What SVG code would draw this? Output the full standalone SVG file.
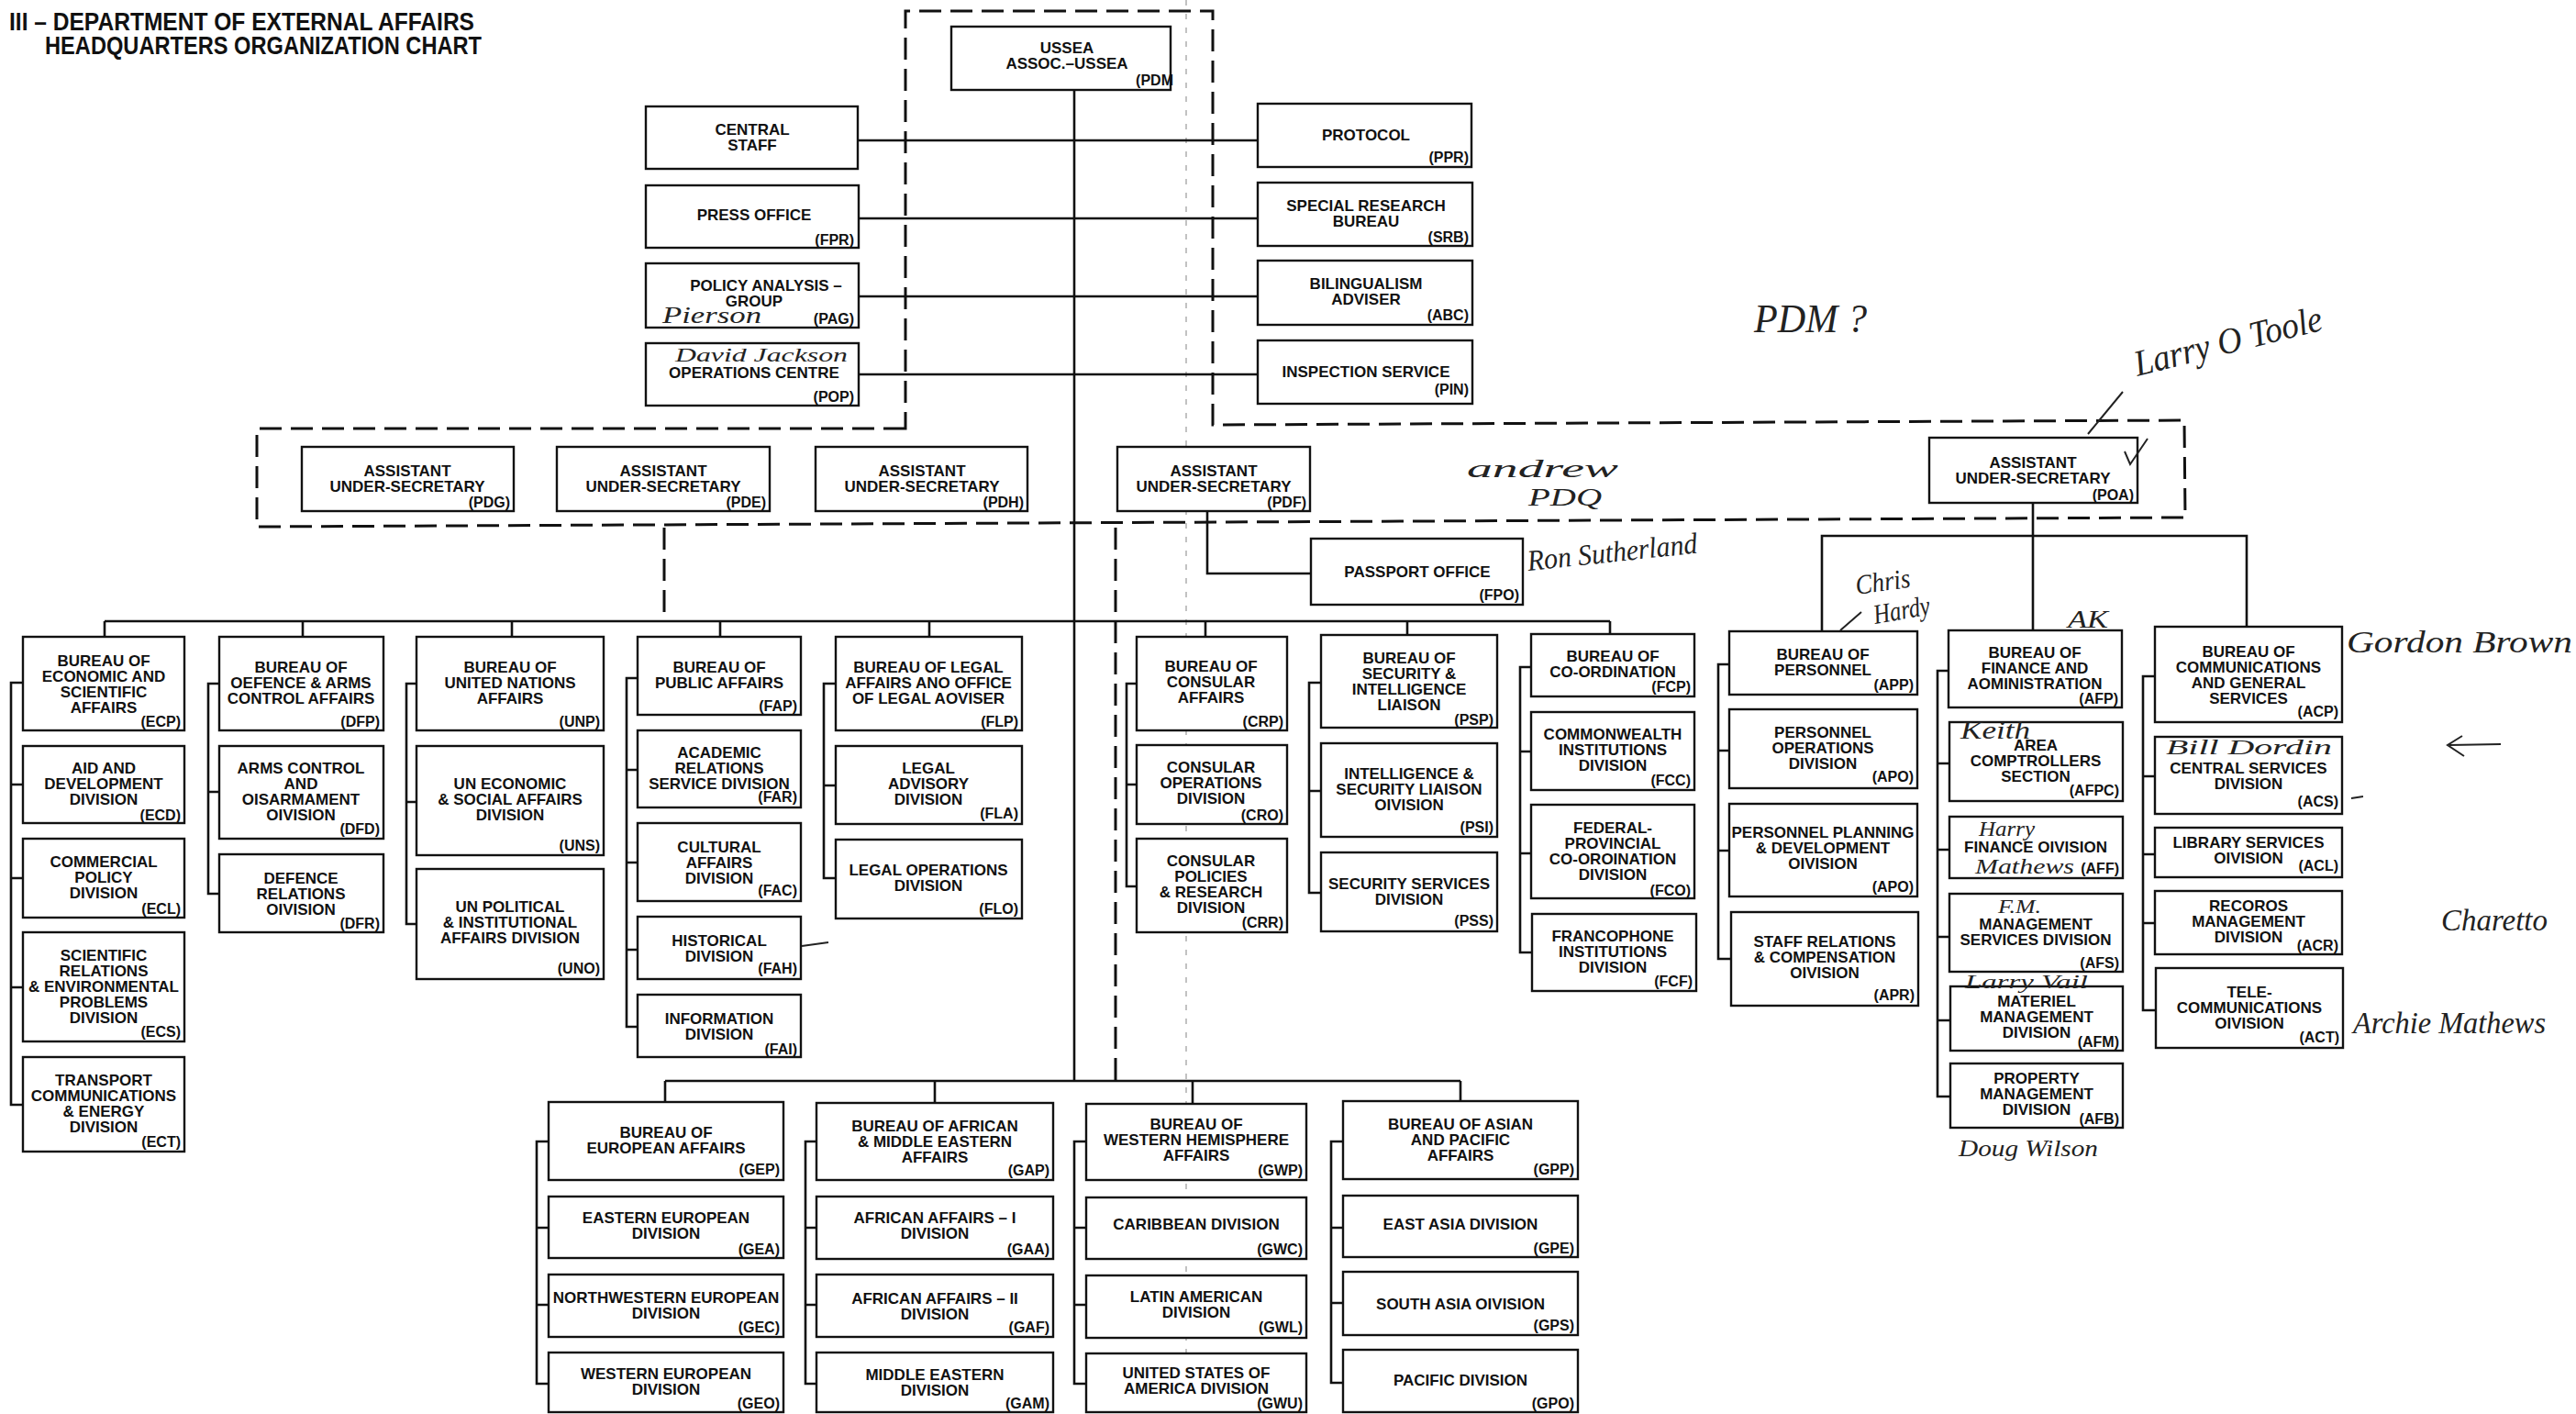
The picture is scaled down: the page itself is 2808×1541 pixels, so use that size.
<svg xmlns="http://www.w3.org/2000/svg" width="2808" height="1541" viewBox="0 0 2808 1541">
<style>
.bx{fill:#fff;stroke:#111;stroke-width:2.4}
.ln{fill:none;stroke:#111;stroke-width:2.6}
.ds{fill:none;stroke:#111;stroke-width:3;stroke-dasharray:24 10}
.fold{fill:none;stroke:#999;stroke-width:1.2;stroke-dasharray:6 9}
.t{font-family:"Liberation Sans",Arial,sans-serif;font-weight:bold;font-size:17px;text-anchor:middle;fill:#111}
.c{font-family:"Liberation Sans",Arial,sans-serif;font-weight:bold;font-size:16px;text-anchor:end;fill:#111}
.hw{font-family:"Liberation Serif",serif;font-style:italic;fill:#222}
.hl{fill:none;stroke:#222;stroke-width:2}
.ttl{font-family:"Liberation Sans",Arial,sans-serif;font-weight:bold;font-size:27px;fill:#111}
</style>
<rect width="2808" height="1541" fill="#fff"/>
<g id="title">
<text class="ttl" x="10" y="33" textLength="507" lengthAdjust="spacingAndGlyphs">III – DEPARTMENT OF EXTERNAL AFFAIRS</text>
<text class="ttl" x="49" y="59" textLength="476" lengthAdjust="spacingAndGlyphs">HEADQUARTERS ORGANIZATION CHART</text>
</g>
<g id="connectors">
<path class="fold" d="M1293 0V1541"/>
<path class="ds" d="M987 467L280 467L280 574L2382 564L2381 458L1322 463L1322 12L987 12Z"/>
<path class="ds" d="M724 575V677M1216 575V1178"/>
<path class="ln" d="M1171 98V1178"/>
<path class="ln" d="M935 153H1371M936 238H1371M936 323H1371M936 408H1371"/>
<path class="ln" d="M1316 557V625H1429"/>
<path class="ln" d="M114 677H1755M114 677V694M330 677V694M558 677V694M785 677V694M1013 677V694M1314 677V694M1534 677V692M1755 677V691"/>
<path class="ln" d="M25 744H12V1204H25M12 855H25M12 957H25M12 1076H25"/>
<path class="ln" d="M239 745H227V974H239M227 863H239"/>
<path class="ln" d="M454 745H443V1007H454M443 874H454"/>
<path class="ln" d="M695 739H683V1119H695M683 839H695M683 940H695M683 1035H695"/>
<path class="ln" d="M911 745H898V957H911M898 856H911"/>
<path class="ln" d="M1239 745H1228V966H1239M1228 855H1239"/>
<path class="ln" d="M1440 744H1427V973H1440M1427 862H1440"/>
<path class="ln" d="M1669 727H1657V1038H1670M1657 819H1669M1657 930H1669"/>
<path class="ln" d="M2216 548V687M1986 688V584H2449V683"/>
<path class="ln" d="M1885 724H1873V1045H1887M1873 818H1885M1873 927H1885"/>
<path class="ln" d="M2124 731H2112V1195H2126M2112 832H2125M2112 926H2125M2112 1021H2125M2112 1112H2126"/>
<path class="ln" d="M2349 737H2336V1101H2350M2336 846H2349M2336 931H2349M2336 1006H2349"/>
<path class="ln" d="M725 1178H1592M725 1178V1201M1019 1178V1202M1300 1178V1203M1592 1178V1200"/>
<path class="ln" d="M598 1244H585V1508H598M585 1338H598M585 1422H598"/>
<path class="ln" d="M890 1244H878V1508H890M878 1338H890M878 1422H890"/>
<path class="ln" d="M1184 1244H1171V1508H1184M1171 1338H1184M1171 1422H1184"/>
<path class="ln" d="M1464 1244H1451V1507H1464M1451 1338H1464M1451 1420H1464"/>
</g>
<g id="ussea"><rect class="bx" x="1037" y="29" width="239" height="69"/><text class="t" x="1163" y="58">USSEA<tspan x="1163" dy="17">ASSOC.–USSEA</tspan></text><text class="c" x="1279" y="93">(PDM</text></g>
<g id="central-staff"><rect class="bx" x="704" y="116" width="231" height="68"/><text class="t" x="820" y="147">CENTRAL<tspan x="820" dy="17">STAFF</tspan></text></g>
<g id="fpr"><rect class="bx" x="704" y="202" width="232" height="68"/><text class="t" x="822" y="240">PRESS OFFICE</text><text class="c" x="931" y="267">(FPR)</text></g>
<g id="pag"><rect class="bx" x="704" y="287" width="232" height="70"/><text class="t" x="835" y="317">POLICY ANALYSIS –</text><text class="t" x="822" y="334">GROUP</text><text class="c" x="931" y="353">(PAG)</text></g>
<g id="pop"><rect class="bx" x="704" y="374" width="232" height="68"/><text class="t" x="822" y="412">OPERATIONS CENTRE</text><text class="c" x="931" y="438">(POP)</text></g>
<g id="ppr"><rect class="bx" x="1371" y="113" width="233" height="69"/><text class="t" x="1489" y="153">PROTOCOL</text><text class="c" x="1601" y="177">(PPR)</text></g>
<g id="srb"><rect class="bx" x="1371" y="199" width="234" height="69"/><text class="t" x="1489" y="230">SPECIAL RESEARCH<tspan x="1489" dy="17">BUREAU</tspan></text><text class="c" x="1601" y="264">(SRB)</text></g>
<g id="abc"><rect class="bx" x="1371" y="284" width="234" height="70"/><text class="t" x="1489" y="315">BILINGUALISM<tspan x="1489" dy="17">ADVISER</tspan></text><text class="c" x="1601" y="349">(ABC)</text></g>
<g id="pin"><rect class="bx" x="1371" y="371" width="234" height="69"/><text class="t" x="1489" y="411">INSPECTION SERVICE</text><text class="c" x="1601" y="430">(PIN)</text></g>
<g id="pdg"><rect class="bx" x="329" y="487" width="231" height="70"/><text class="t" x="444" y="519">ASSISTANT<tspan x="444" dy="17">UNDER-SECRETARY</tspan></text><text class="c" x="556" y="553">(PDG)</text></g>
<g id="pde"><rect class="bx" x="607" y="487" width="232" height="70"/><text class="t" x="723" y="519">ASSISTANT<tspan x="723" dy="17">UNDER-SECRETARY</tspan></text><text class="c" x="835" y="553">(PDE)</text></g>
<g id="pdh"><rect class="bx" x="889" y="487" width="231" height="70"/><text class="t" x="1005" y="519">ASSISTANT<tspan x="1005" dy="17">UNDER-SECRETARY</tspan></text><text class="c" x="1116" y="553">(PDH)</text></g>
<g id="pdf"><rect class="bx" x="1218" y="487" width="210" height="70"/><text class="t" x="1323" y="519">ASSISTANT<tspan x="1323" dy="17">UNDER-SECRETARY</tspan></text><text class="c" x="1424" y="553">(PDF)</text></g>
<g id="poa"><rect class="bx" x="2103" y="477" width="227" height="71"/><text class="t" x="2216" y="510">ASSISTANT<tspan x="2216" dy="17">UNDER-SECRETARY</tspan></text><text class="c" x="2326" y="545">(POA)</text></g>
<g id="fpo"><rect class="bx" x="1429" y="587" width="231" height="72"/><text class="t" x="1545" y="629">PASSPORT OFFICE</text><text class="c" x="1656" y="654">(FPO)</text></g>
<g id="ecp"><rect class="bx" x="25" y="694" width="176" height="102"/><text class="t" x="113" y="726">BUREAU OF<tspan x="113" dy="17">ECONOMIC AND</tspan><tspan x="113" dy="17">SCIENTIFIC</tspan><tspan x="113" dy="17">AFFAIRS</tspan></text><text class="c" x="197" y="792">(ECP)</text></g>
<g id="ecd"><rect class="bx" x="25" y="813" width="176" height="84"/><text class="t" x="113" y="843">AID AND<tspan x="113" dy="17">DEVELOPMENT</tspan><tspan x="113" dy="17">DIVISION</tspan></text><text class="c" x="197" y="894">(ECD)</text></g>
<g id="ecl"><rect class="bx" x="25" y="914" width="176" height="86"/><text class="t" x="113" y="945">COMMERCIAL<tspan x="113" dy="17">POLICY</tspan><tspan x="113" dy="17">DIVISION</tspan></text><text class="c" x="197" y="996">(ECL)</text></g>
<g id="ecs"><rect class="bx" x="25" y="1016" width="176" height="119"/><text class="t" x="113" y="1047">SCIENTIFIC<tspan x="113" dy="17">RELATIONS</tspan><tspan x="113" dy="17">&amp; ENVIRONMENTAL</tspan><tspan x="113" dy="17">PROBLEMS</tspan><tspan x="113" dy="17">DIVISION</tspan></text><text class="c" x="197" y="1130">(ECS)</text></g>
<g id="ect"><rect class="bx" x="25" y="1152" width="176" height="103"/><text class="t" x="113" y="1183">TRANSPORT<tspan x="113" dy="17">COMMUNICATIONS</tspan><tspan x="113" dy="17">&amp; ENERGY</tspan><tspan x="113" dy="17">DIVISION</tspan></text><text class="c" x="197" y="1250">(ECT)</text></g>
<g id="dfp"><rect class="bx" x="239" y="694" width="179" height="102"/><text class="t" x="328" y="733">BUREAU OF<tspan x="328" dy="17">OEFENCE &amp; ARMS</tspan><tspan x="328" dy="17">CONTROL AFFAIRS</tspan></text><text class="c" x="414" y="792">(DFP)</text></g>
<g id="dfd"><rect class="bx" x="239" y="813" width="179" height="101"/><text class="t" x="328" y="843">ARMS CONTROL<tspan x="328" dy="17">AND</tspan><tspan x="328" dy="17">OISARMAMENT</tspan><tspan x="328" dy="17">OIVISION</tspan></text><text class="c" x="414" y="909">(DFD)</text></g>
<g id="dfr"><rect class="bx" x="239" y="931" width="179" height="85"/><text class="t" x="328" y="963">DEFENCE<tspan x="328" dy="17">RELATIONS</tspan><tspan x="328" dy="17">OIVISION</tspan></text><text class="c" x="414" y="1012">(DFR)</text></g>
<g id="unp"><rect class="bx" x="454" y="694" width="204" height="102"/><text class="t" x="556" y="733">BUREAU OF<tspan x="556" dy="17">UNITED NATIONS</tspan><tspan x="556" dy="17">AFFAIRS</tspan></text><text class="c" x="654" y="792">(UNP)</text></g>
<g id="uns"><rect class="bx" x="454" y="813" width="204" height="119"/><text class="t" x="556" y="860">UN ECONOMIC<tspan x="556" dy="17">&amp; SOCIAL AFFAIRS</tspan><tspan x="556" dy="17">DIVISION</tspan></text><text class="c" x="654" y="927">(UNS)</text></g>
<g id="uno"><rect class="bx" x="454" y="947" width="204" height="120"/><text class="t" x="556" y="994">UN POLITICAL<tspan x="556" dy="17">&amp; INSTITUTIONAL</tspan><tspan x="556" dy="17">AFFAIRS DIVISION</tspan></text><text class="c" x="654" y="1061">(UNO)</text></g>
<g id="fap"><rect class="bx" x="695" y="694" width="178" height="85"/><text class="t" x="784" y="733">BUREAU OF<tspan x="784" dy="17">PUBLIC AFFAIRS</tspan></text><text class="c" x="869" y="775">(FAP)</text></g>
<g id="far"><rect class="bx" x="695" y="796" width="178" height="84"/><text class="t" x="784" y="826">ACADEMIC<tspan x="784" dy="17">RELATIONS</tspan><tspan x="784" dy="17">SERVICE DIVISION</tspan></text><text class="c" x="869" y="874">(FAR)</text></g>
<g id="fac"><rect class="bx" x="695" y="897" width="178" height="85"/><text class="t" x="784" y="929">CULTURAL<tspan x="784" dy="17">AFFAIRS</tspan><tspan x="784" dy="17">DIVISION</tspan></text><text class="c" x="869" y="976">(FAC)</text></g>
<g id="fah"><rect class="bx" x="695" y="999" width="178" height="68"/><text class="t" x="784" y="1031">HISTORICAL<tspan x="784" dy="17">DIVISION</tspan></text><text class="c" x="869" y="1061">(FAH)</text></g>
<g id="fai"><rect class="bx" x="695" y="1084" width="178" height="68"/><text class="t" x="784" y="1116">INFORMATION<tspan x="784" dy="17">DIVISION</tspan></text><text class="c" x="869" y="1149">(FAI)</text></g>
<g id="flp"><rect class="bx" x="911" y="694" width="203" height="102"/><text class="t" x="1012" y="733">BUREAU OF LEGAL<tspan x="1012" dy="17">AFFAIRS ANO OFFICE</tspan><tspan x="1012" dy="17">OF LEGAL AOVISER</tspan></text><text class="c" x="1110" y="792">(FLP)</text></g>
<g id="fla"><rect class="bx" x="911" y="813" width="203" height="85"/><text class="t" x="1012" y="843">LEGAL<tspan x="1012" dy="17">ADVISORY</tspan><tspan x="1012" dy="17">DIVISION</tspan></text><text class="c" x="1110" y="892">(FLA)</text></g>
<g id="flo"><rect class="bx" x="911" y="915" width="203" height="86"/><text class="t" x="1012" y="954">LEGAL OPERATIONS<tspan x="1012" dy="17">DIVISION</tspan></text><text class="c" x="1110" y="996">(FLO)</text></g>
<g id="crp"><rect class="bx" x="1239" y="694" width="164" height="102"/><text class="t" x="1320" y="732">BUREAU OF<tspan x="1320" dy="17">CONSULAR</tspan><tspan x="1320" dy="17">AFFAIRS</tspan></text><text class="c" x="1399" y="792">(CRP)</text></g>
<g id="cro"><rect class="bx" x="1239" y="812" width="164" height="86"/><text class="t" x="1320" y="842">CONSULAR<tspan x="1320" dy="17">OPERATIONS</tspan><tspan x="1320" dy="17">DIVISION</tspan></text><text class="c" x="1399" y="894">(CRO)</text></g>
<g id="crr"><rect class="bx" x="1239" y="914" width="164" height="102"/><text class="t" x="1320" y="944">CONSULAR<tspan x="1320" dy="17">POLICIES</tspan><tspan x="1320" dy="17">&amp; RESEARCH</tspan><tspan x="1320" dy="17">DIVISION</tspan></text><text class="c" x="1399" y="1011">(CRR)</text></g>
<g id="psp"><rect class="bx" x="1440" y="692" width="192" height="101"/><text class="t" x="1536" y="723">BUREAU OF<tspan x="1536" dy="17">SECURITY &amp;</tspan><tspan x="1536" dy="17">INTELLIGENCE</tspan><tspan x="1536" dy="17">LIAISON</tspan></text><text class="c" x="1628" y="790">(PSP)</text></g>
<g id="psi"><rect class="bx" x="1440" y="810" width="192" height="102"/><text class="t" x="1536" y="849">INTELLIGENCE &amp;<tspan x="1536" dy="17">SECURITY LIAISON</tspan><tspan x="1536" dy="17">OIVISION</tspan></text><text class="c" x="1628" y="907">(PSI)</text></g>
<g id="pss"><rect class="bx" x="1440" y="929" width="192" height="86"/><text class="t" x="1536" y="969">SECURITY SERVICES<tspan x="1536" dy="17">DIVISION</tspan></text><text class="c" x="1628" y="1009">(PSS)</text></g>
<g id="fcp"><rect class="bx" x="1669" y="691" width="178" height="68"/><text class="t" x="1758" y="721">BUREAU OF<tspan x="1758" dy="17">CO-ORDINATION</tspan></text><text class="c" x="1843" y="754">(FCP)</text></g>
<g id="fcc"><rect class="bx" x="1669" y="776" width="178" height="85"/><text class="t" x="1758" y="806">COMMONWEALTH<tspan x="1758" dy="17">INSTITUTIONS</tspan><tspan x="1758" dy="17">DIVISION</tspan></text><text class="c" x="1843" y="856">(FCC)</text></g>
<g id="fco"><rect class="bx" x="1669" y="877" width="178" height="102"/><text class="t" x="1758" y="908">FEDERAL-<tspan x="1758" dy="17">PROVINCIAL</tspan><tspan x="1758" dy="17">CO-OROINATION</tspan><tspan x="1758" dy="17">DIVISION</tspan></text><text class="c" x="1843" y="976">(FCO)</text></g>
<g id="fcf"><rect class="bx" x="1670" y="996" width="179" height="84"/><text class="t" x="1758" y="1026">FRANCOPHONE<tspan x="1758" dy="17">INSTITUTIONS</tspan><tspan x="1758" dy="17">DIVISION</tspan></text><text class="c" x="1845" y="1075">(FCF)</text></g>
<g id="app"><rect class="bx" x="1885" y="688" width="205" height="69"/><text class="t" x="1987" y="719">BUREAU OF<tspan x="1987" dy="17">PERSONNEL</tspan></text><text class="c" x="2086" y="752">(APP)</text></g>
<g id="apo"><rect class="bx" x="1885" y="773" width="205" height="86"/><text class="t" x="1987" y="804">PERSONNEL<tspan x="1987" dy="17">OPERATIONS</tspan><tspan x="1987" dy="17">DIVISION</tspan></text><text class="c" x="2086" y="852">(APO)</text></g>
<g id="apo-planning"><rect class="bx" x="1885" y="876" width="205" height="101"/><text class="t" x="1987" y="913">PERSONNEL PLANNING<tspan x="1987" dy="17">&amp; DEVELOPMENT</tspan><tspan x="1987" dy="17">OIVISION</tspan></text><text class="c" x="2086" y="972">(APO)</text></g>
<g id="apr"><rect class="bx" x="1887" y="994" width="204" height="102"/><text class="t" x="1989" y="1032">STAFF RELATIONS<tspan x="1989" dy="17">&amp; COMPENSATION</tspan><tspan x="1989" dy="17">OIVISION</tspan></text><text class="c" x="2087" y="1090">(APR)</text></g>
<g id="afp"><rect class="bx" x="2124" y="687" width="189" height="84"/><text class="t" x="2218" y="717">BUREAU OF<tspan x="2218" dy="17">FINANCE AND</tspan><tspan x="2218" dy="17">AOMINISTRATION</tspan></text><text class="c" x="2309" y="767">(AFP)</text></g>
<g id="afpc"><rect class="bx" x="2125" y="787" width="189" height="86"/><text class="t" x="2219" y="818">AREA<tspan x="2219" dy="17">COMPTROLLERS</tspan><tspan x="2219" dy="17">SECTION</tspan></text><text class="c" x="2310" y="867">(AFPC)</text></g>
<g id="aff"><rect class="bx" x="2125" y="890" width="189" height="67"/><text class="t" x="2219" y="929">FINANCE OIVISION</text><text class="c" x="2310" y="952">(AFF)</text></g>
<g id="afs"><rect class="bx" x="2125" y="974" width="189" height="85"/><text class="t" x="2219" y="1013">MANAGEMENT<tspan x="2219" dy="17">SERVICES DIVISION</tspan></text><text class="c" x="2310" y="1055">(AFS)</text></g>
<g id="afm"><rect class="bx" x="2126" y="1075" width="188" height="70"/><text class="t" x="2220" y="1097">MATERIEL<tspan x="2220" dy="17">MANAGEMENT</tspan><tspan x="2220" dy="17">DIVISION</tspan></text><text class="c" x="2310" y="1141">(AFM)</text></g>
<g id="afb"><rect class="bx" x="2126" y="1159" width="188" height="70"/><text class="t" x="2220" y="1181">PROPERTY<tspan x="2220" dy="17">MANAGEMENT</tspan><tspan x="2220" dy="17">DIVISION</tspan></text><text class="c" x="2310" y="1225">(AFB)</text></g>
<g id="acp"><rect class="bx" x="2349" y="683" width="204" height="104"/><text class="t" x="2451" y="716">BUREAU OF<tspan x="2451" dy="17">COMMUNICATIONS</tspan><tspan x="2451" dy="17">AND GENERAL</tspan><tspan x="2451" dy="17">SERVICES</tspan></text><text class="c" x="2549" y="781">(ACP)</text></g>
<g id="acs"><rect class="bx" x="2349" y="803" width="204" height="84"/><text class="t" x="2451" y="843">CENTRAL SERVICES<tspan x="2451" dy="17">DIVISION</tspan></text><text class="c" x="2549" y="879">(ACS)</text></g>
<g id="acl"><rect class="bx" x="2349" y="902" width="204" height="54"/><text class="t" x="2451" y="924">LIBRARY SERVICES<tspan x="2451" dy="17">OIVISION</tspan></text><text class="c" x="2549" y="949">(ACL)</text></g>
<g id="acr"><rect class="bx" x="2349" y="971" width="204" height="69"/><text class="t" x="2451" y="993">RECOROS<tspan x="2451" dy="17">MANAGEMENT</tspan><tspan x="2451" dy="17">DIVISION</tspan></text><text class="c" x="2549" y="1036">(ACR)</text></g>
<g id="act"><rect class="bx" x="2350" y="1055" width="204" height="87"/><text class="t" x="2452" y="1087">TELE-<tspan x="2452" dy="17">COMMUNICATIONS</tspan><tspan x="2452" dy="17">OIVISION</tspan></text><text class="c" x="2550" y="1136">(ACT)</text></g>
<g id="gep"><rect class="bx" x="598" y="1201" width="256" height="85"/><text class="t" x="726" y="1240">BUREAU OF<tspan x="726" dy="17">EUROPEAN AFFAIRS</tspan></text><text class="c" x="850" y="1280">(GEP)</text></g>
<g id="gea"><rect class="bx" x="598" y="1304" width="256" height="67"/><text class="t" x="726" y="1333">EASTERN EUROPEAN<tspan x="726" dy="17">DIVISION</tspan></text><text class="c" x="850" y="1367">(GEA)</text></g>
<g id="gec"><rect class="bx" x="598" y="1389" width="256" height="68"/><text class="t" x="726" y="1420">NORTHWESTERN EUROPEAN<tspan x="726" dy="17">DIVISION</tspan></text><text class="c" x="850" y="1452">(GEC)</text></g>
<g id="geo"><rect class="bx" x="598" y="1474" width="256" height="65"/><text class="t" x="726" y="1503">WESTERN EUROPEAN<tspan x="726" dy="17">DIVISION</tspan></text><text class="c" x="850" y="1535">(GEO)</text></g>
<g id="gap"><rect class="bx" x="890" y="1202" width="258" height="84"/><text class="t" x="1019" y="1233">BUREAU OF AFRICAN<tspan x="1019" dy="17">&amp; MIDDLE EASTERN</tspan><tspan x="1019" dy="17">AFFAIRS</tspan></text><text class="c" x="1144" y="1281">(GAP)</text></g>
<g id="gaa"><rect class="bx" x="890" y="1304" width="258" height="68"/><text class="t" x="1019" y="1333">AFRICAN AFFAIRS – I<tspan x="1019" dy="17">DIVISION</tspan></text><text class="c" x="1144" y="1367">(GAA)</text></g>
<g id="gaf"><rect class="bx" x="890" y="1389" width="258" height="68"/><text class="t" x="1019" y="1421">AFRICAN AFFAIRS – II<tspan x="1019" dy="17">DIVISION</tspan></text><text class="c" x="1144" y="1452">(GAF)</text></g>
<g id="gam"><rect class="bx" x="890" y="1474" width="258" height="65"/><text class="t" x="1019" y="1504">MIDDLE EASTERN<tspan x="1019" dy="17">DIVISION</tspan></text><text class="c" x="1144" y="1535">(GAM)</text></g>
<g id="gwp"><rect class="bx" x="1184" y="1203" width="240" height="83"/><text class="t" x="1304" y="1231">BUREAU OF<tspan x="1304" dy="17">WESTERN HEMISPHERE</tspan><tspan x="1304" dy="17">AFFAIRS</tspan></text><text class="c" x="1420" y="1281">(GWP)</text></g>
<g id="gwc"><rect class="bx" x="1184" y="1305" width="240" height="67"/><text class="t" x="1304" y="1340">CARIBBEAN DIVISION</text><text class="c" x="1420" y="1367">(GWC)</text></g>
<g id="gwl"><rect class="bx" x="1184" y="1390" width="240" height="68"/><text class="t" x="1304" y="1419">LATIN AMERICAN<tspan x="1304" dy="17">DIVISION</tspan></text><text class="c" x="1420" y="1452">(GWL)</text></g>
<g id="gwu"><rect class="bx" x="1184" y="1475" width="240" height="64"/><text class="t" x="1304" y="1502">UNITED STATES OF<tspan x="1304" dy="17">AMERICA DIVISION</tspan></text><text class="c" x="1420" y="1535">(GWU)</text></g>
<g id="gpp"><rect class="bx" x="1464" y="1200" width="256" height="85"/><text class="t" x="1592" y="1231">BUREAU OF ASIAN<tspan x="1592" dy="17">AND PACIFIC</tspan><tspan x="1592" dy="17">AFFAIRS</tspan></text><text class="c" x="1716" y="1280">(GPP)</text></g>
<g id="gpe"><rect class="bx" x="1464" y="1303" width="256" height="67"/><text class="t" x="1592" y="1340">EAST ASIA DIVISION</text><text class="c" x="1716" y="1366">(GPE)</text></g>
<g id="gps"><rect class="bx" x="1464" y="1386" width="256" height="69"/><text class="t" x="1592" y="1427">SOUTH ASIA OIVISION</text><text class="c" x="1716" y="1450">(GPS)</text></g>
<g id="gpo"><rect class="bx" x="1464" y="1471" width="256" height="68"/><text class="t" x="1592" y="1510">PACIFIC DIVISION</text><text class="c" x="1716" y="1535">(GPO)</text></g>
<g id="annotations">
<text class="hw" x="722" y="352" font-size="26" textLength="108" lengthAdjust="spacingAndGlyphs">Pierson</text>
<text class="hw" x="736" y="394" font-size="22" textLength="188" lengthAdjust="spacingAndGlyphs">David Jackson</text>
<text class="hw" x="1912" y="362" font-size="44" textLength="123" lengthAdjust="spacingAndGlyphs">PDM ?</text>
<text class="hw" x="2330" y="410" font-size="40" textLength="210" lengthAdjust="spacingAndGlyphs" transform="rotate(-14 2330 410)">Larry O Toole</text>
<path class="hl" d="M2276 473L2314 427M2316 492L2322 506L2341 478"/>
<text class="hw" x="1599" y="520" font-size="28" textLength="165" lengthAdjust="spacingAndGlyphs">andrew</text>
<text class="hw" x="1666" y="551" font-size="28" textLength="80" lengthAdjust="spacingAndGlyphs">PDQ</text>
<text class="hw" x="1666" y="622" font-size="32" textLength="186" lengthAdjust="spacingAndGlyphs" transform="rotate(-6 1666 622)">Ron Sutherland</text>
<text class="hw" x="2024" y="648" font-size="30" textLength="60" lengthAdjust="spacingAndGlyphs" transform="rotate(-8 2024 648)">Chris</text>
<text class="hw" x="2044" y="680" font-size="30" textLength="62" lengthAdjust="spacingAndGlyphs" transform="rotate(-10 2044 680)">Hardy</text>
<path class="hl" d="M2006 687L2029 667M874 1031L903 1027M2563 870L2576 868M2726 811L2670 812M2684 802L2668 812L2686 824"/>
<text class="hw" x="2254" y="684" font-size="28" textLength="44" lengthAdjust="spacingAndGlyphs">AK</text>
<text class="hw" x="2558" y="711" font-size="34" textLength="246" lengthAdjust="spacingAndGlyphs">Gordon Brown</text>
<text class="hw" x="2137" y="805" font-size="28" textLength="76" lengthAdjust="spacingAndGlyphs">Keith</text>
<text class="hw" x="2157" y="911" font-size="24" textLength="61" lengthAdjust="spacingAndGlyphs">Harry</text>
<text class="hw" x="2153" y="952" font-size="24" textLength="108" lengthAdjust="spacingAndGlyphs">Mathews</text>
<text class="hw" x="2178" y="995" font-size="20" textLength="47" lengthAdjust="spacingAndGlyphs">F.M.</text>
<text class="hw" x="2142" y="1077" font-size="22" textLength="134" lengthAdjust="spacingAndGlyphs">Larry Vail</text>
<text class="hw" x="2135" y="1260" font-size="26" textLength="152" lengthAdjust="spacingAndGlyphs">Doug Wilson</text>
<text class="hw" x="2361" y="822" font-size="23" textLength="181" lengthAdjust="spacingAndGlyphs">Bill Dordin</text>
<text class="hw" x="2661" y="1014" font-size="34" textLength="116" lengthAdjust="spacingAndGlyphs">Charetto</text>
<text class="hw" x="2565" y="1126" font-size="34" textLength="210" lengthAdjust="spacingAndGlyphs">Archie Mathews</text>
</g>
</svg>
